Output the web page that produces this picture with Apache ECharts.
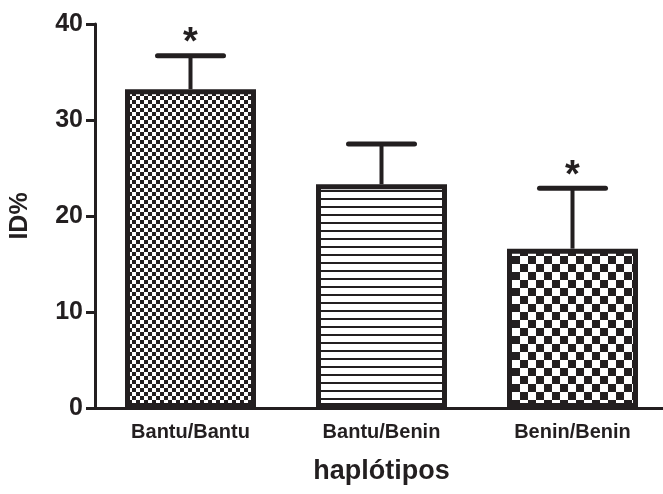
<!DOCTYPE html>
<html>
<head>
<meta charset="utf-8">
<script src="https://cdn.jsdelivr.net/npm/echarts@6/dist/echarts.min.js"></script>
<style>
    html, body { margin: 0; padding: 0; background: #fff; }
    #chart { width: 663px; height: 494px; }
</style>
</head>
<body>
<div id="chart"></div>
<script>
// values
const categories = ['Bantu/Bantu', 'Bantu/Benin', 'Benin/Benin'];
const means = [33.2, 23.3, 16.6];
const upperErr = [36.7, 27.5, 22.9];
const marks = ['*', '', '*'];
const patterns = ['fine', 'lines', 'coarse'];

const ink = '#231f20';
const font = '"Liberation Sans", Arial, sans-serif';

function makePattern(kind) {
    const c = document.createElement('canvas');
    const ctx = c.getContext('2d');
    if (kind === 'fine') {
        c.width = c.height = 8;
        ctx.fillStyle = '#fff';
        ctx.fillRect(0, 0, 8, 8);
        ctx.fillStyle = ink;
        ctx.fillRect(0, 0, 4, 4);
        ctx.fillRect(4, 4, 4, 4);
    } else if (kind === 'lines') {
        c.width = 8;
        c.height = 8;
        ctx.fillStyle = '#fff';
        ctx.fillRect(0, 0, 8, 8);
        ctx.fillStyle = ink;
        ctx.fillRect(0, 6, 8, 2);
    } else {
        c.width = c.height = 16;
        ctx.fillStyle = '#fff';
        ctx.fillRect(0, 0, 16, 16);
        ctx.fillStyle = ink;
        ctx.fillRect(0, 0, 8, 8);
        ctx.fillRect(8, 8, 8, 8);
    }
    return c;
}

const myChart = echarts.init(document.getElementById('chart'));
const option = {
    animation: false,
    grid: {left: 95, top: 24, width: 573, bottom: 86, outerBoundsMode: 'none', containLabel: false},
    xAxis: {
        type: 'category',
        data: categories,
        name: 'haplótipos',
        nameLocation: 'middle',
        nameGap: 50,
        nameTextStyle: {fontSize: 27, fontWeight: 'bold', color: ink, fontFamily: font},
        axisLine: {lineStyle: {color: ink, width: 3}},
        axisTick: {alignWithLabel: true, length: 10, lineStyle: {color: ink, width: 3}},
        axisLabel: {fontSize: 20, fontWeight: 'bold', color: ink, fontFamily: font, margin: 14}
    },
    yAxis: {
        type: 'value',
        min: 0,
        max: 40,
        interval: 10,
        name: 'ID%',
        nameLocation: 'middle',
        nameGap: 62,
        nameRotate: 90,
        nameTextStyle: {fontSize: 25, fontWeight: 'bold', color: ink, fontFamily: font},
        splitLine: {show: false},
        axisLine: {show: true, lineStyle: {color: ink, width: 3}},
        axisTick: {show: true, length: 9, lineStyle: {color: ink, width: 3}},
        axisLabel: {fontSize: 25, fontWeight: 'bold', color: ink, fontFamily: font, margin: 12}
    },
    series: [
        {
            type: 'bar',
            barWidth: 131,
            z: 3,
            data: means.map(function (v, i) {
                return {
                    value: v,
                    itemStyle: {
                        color: {image: makePattern(patterns[i]), repeat: 'repeat'},
                        borderColor: ink,
                        borderWidth: 5
                    }
                };
            })
        },
        {
            type: 'custom',
            z: 2,
            encode: {x: 0, y: [1, 2]},
            data: means.map(function (v, i) {
                return [i, v, upperErr[i]];
            }),
            renderItem: function (params, api) {
                const top = api.coord([api.value(0), api.value(1)]);
                const hi = api.coord([api.value(0), api.value(2)]);
                const half = 33;
                const children = [
                    {type: 'line', shape: {x1: top[0], y1: top[1], x2: hi[0], y2: hi[1]},
                        style: {stroke: ink, lineWidth: 4}},
                    {type: 'line', shape: {x1: hi[0] - half, y1: hi[1], x2: hi[0] + half, y2: hi[1]},
                        style: {stroke: ink, lineWidth: 5, lineCap: 'round'}}
                ];
                const m = marks[params.dataIndex];
                if (m) {
                    children.push({
                        type: 'text',
                        x: hi[0],
                        y: hi[1] - 12,
                        style: {text: m, fill: ink, font: 'bold 38px ' + font, align: 'center', verticalAlign: 'middle'}
                    });
                }
                return {type: 'group', children: children};
            }
        }
    ]
};
myChart.setOption(option);
</script>
</body>
</html>
